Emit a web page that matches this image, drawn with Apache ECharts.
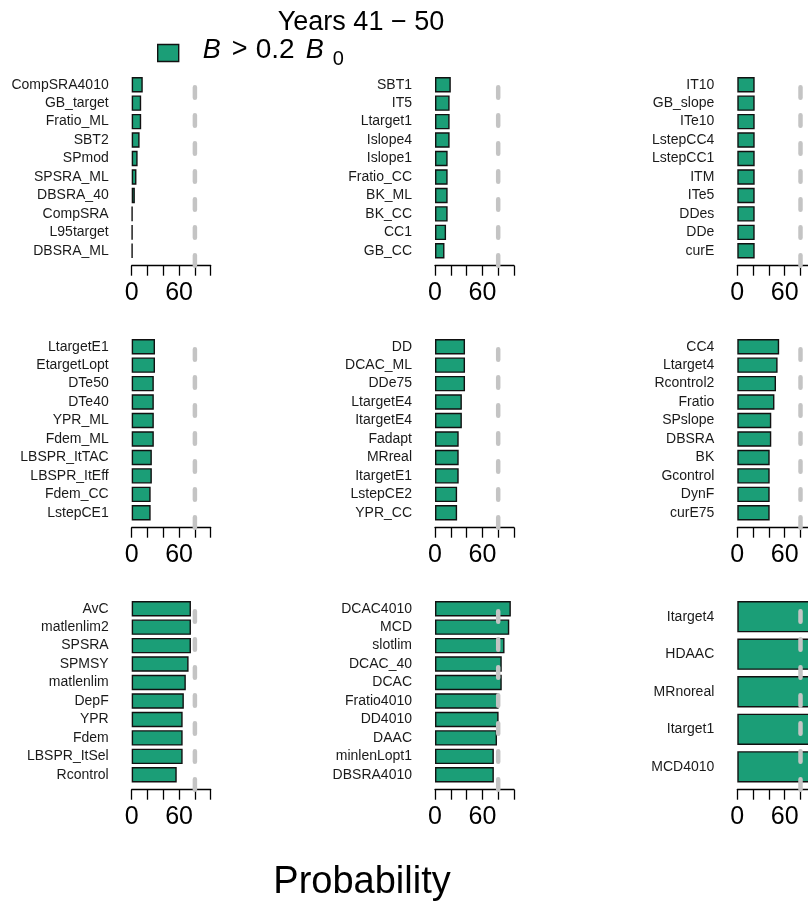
<!DOCTYPE html>
<html lang="en">
<head>
    <meta charset="UTF-8">
    <title>Years 41 - 50</title>
    <style>
        html,body{margin:0;padding:0;background:#fff;}
        #main{width:808px;height:903px;}
    </style>
</head>
<body>
    <div id="main"></div>
    <script src="https://cdn.jsdelivr.net/npm/echarts@6/dist/echarts.min.js"></script>
    <script>
        // categories top -> bottom, one pair of arrays per panel
        var names1 = ['CompSRA4010','GB_target','Fratio_ML','SBT2','SPmod','SPSRA_ML','DBSRA_40','CompSRA','L95target','DBSRA_ML'];
        var vals1  = [14, 12, 12, 10, 7.5, 6, 4, 1, 1, 1];
        var names2 = ['SBT1','IT5','Ltarget1','Islope4','Islope1','Fratio_CC','BK_ML','BK_CC','CC1','GB_CC'];
        var vals2  = [20, 18.5, 18.5, 18.5, 16, 16, 16, 16, 14, 12];
        var names3 = ['IT10','GB_slope','ITe10','LstepCC4','LstepCC1','ITM','ITe5','DDes','DDe','curE'];
        var vals3  = [22, 22, 22, 22, 22, 22, 22, 22, 22, 22];
        var names4 = ['LtargetE1','EtargetLopt','DTe50','DTe40','YPR_ML','Fdem_ML','LBSPR_ItTAC','LBSPR_ItEff','Fdem_CC','LstepCE1'];
        var vals4  = [29.5, 29.5, 28, 28, 28, 28, 25.5, 25.5, 24, 24];
        var names5 = ['DD','DCAC_ML','DDe75','LtargetE4','ItargetE4','Fadapt','MRreal','ItargetE1','LstepCE2','YPR_CC'];
        var vals5  = [38, 38, 38, 34, 34, 30, 30, 30, 28, 28];
        var names6 = ['CC4','Ltarget4','Rcontrol2','Fratio','SPslope','DBSRA','BK','Gcontrol','DynF','curE75'];
        var vals6  = [53, 51, 49, 47, 43, 43, 41, 41, 41, 41];
        var names7 = ['AvC','matlenlim2','SPSRA','SPMSY','matlenlim','DepF','YPR','Fdem','LBSPR_ItSel','Rcontrol'];
        var vals7  = [75, 75, 75, 72, 68.5, 66, 64.5, 64.5, 64.5, 57];
        var names8 = ['DCAC4010','MCD','slotlim','DCAC_40','DCAC','Fratio4010','DD4010','DAAC','minlenLopt1','DBSRA4010'];
        var vals8  = [96, 94, 88, 84.5, 84.5, 80.5, 80.5, 78.5, 74.5, 74.5];
        var names9 = ['Itarget4','HDAAC','MRnoreal','Itarget1','MCD4010'];
        var vals9  = [99, 98, 98, 97, 97];

        var xTickLabels = [0, 60];
        var refLine = 80;
        var seriesName = 'B > 0.2 B0';

        var panels = [
            [names1, vals1], [names2, vals2], [names3, vals3],
            [names4, vals4], [names5, vals5], [names6, vals6],
            [names7, vals7], [names8, vals8], [names9, vals9]
        ];

        // layout (pixels)
        var colX = [131.7, 435, 737.3];
        var rowTop = [77, 339, 601];
        var barSpan = 181.5;
        var plotW = 79;
        var pad = 7.2;
        var font = 'Liberation Sans, Arial, sans-serif';
        var green = '#1b9e77';

        var grid = [], xAxis = [], yAxis = [], series = [];

        panels.forEach(function (p, i) {
            var col = i % 3, row = Math.floor(i / 3);
            var n = p[0].length;
            var b = barSpan / (1.2 * n - 0.2);
            var left = colX[col];
            // bars grid
            grid.push({left: left, width: plotW, top: rowTop[row] - 0.1 * b, height: 1.2 * n * b,
                       outerBoundsMode: 'none', containLabel: false});
            // axis + reference line grid
            grid.push({left: left, width: plotW, top: rowTop[row] - pad, height: barSpan + 2 * pad,
                       outerBoundsMode: 'none', containLabel: false});

            xAxis.push({type: 'value', gridIndex: 2 * i, min: 0, max: 100, show: false});
            xAxis.push({
                type: 'value', gridIndex: 2 * i + 1, min: 0, max: 100, interval: 20,
                axisLine: {show: true, lineStyle: {color: '#000', width: 1.3}},
                axisTick: {show: true, length: 10, lineStyle: {color: '#000', width: 1.3}},
                splitLine: {show: false},
                axisLabel: {
                    margin: 15, fontSize: 25, color: '#000', fontFamily: font,
                    formatter: function (v) { return xTickLabels.indexOf(v) >= 0 ? String(v) : ''; }
                }
            });
            yAxis.push({
                type: 'category', gridIndex: 2 * i, data: p[0], inverse: true,
                axisLine: {show: false}, axisTick: {show: false},
                axisLabel: {margin: 23, fontSize: 14, color: '#1a1a1a', fontFamily: font, interval: 0}
            });
            yAxis.push({type: 'value', gridIndex: 2 * i + 1, min: 0, max: 1, show: false});

            series.push({
                name: seriesName, type: 'bar', xAxisIndex: 2 * i, yAxisIndex: 2 * i,
                data: p[1], barCategoryGap: '16.67%',
                itemStyle: {color: green, borderColor: '#111', borderWidth: 1.4},
                animation: false, z: 2
            });
            series.push({
                type: 'line', xAxisIndex: 2 * i + 1, yAxisIndex: 2 * i + 1,
                data: [[refLine, 0], [refLine, 1]], symbol: 'none', silent: true,
                lineStyle: {color: '#c4c4c4', width: 4.5, type: [10.5, 17.5], cap: 'round'},
                animation: false, z: 5
            });
        });

        var chart = echarts.init(document.getElementById('main'));
        chart.setOption({
            backgroundColor: '#fff',
            animation: false,
            title: [
                {text: 'Years 41 \u2212 50', left: 361, top: 9, textAlign: 'center', padding: 0,
                 textStyle: {fontSize: 27, fontWeight: 'normal', color: '#000', fontFamily: font}},
                {text: 'Probability', left: 362, top: 864, textAlign: 'center', padding: 0,
                 textStyle: {fontSize: 38, fontWeight: 'normal', color: '#000', fontFamily: font}}
            ],
            legend: {
                data: [seriesName], left: 157, top: 36, padding: 0,
                icon: 'rect', itemWidth: 21, itemHeight: 17,
                itemStyle: {color: green, borderColor: '#111', borderWidth: 1.4},
                formatter: function () { return '{g|}{b1|B}{gt|>}{num|0.2}{b2|B}{s|0}'; },
                textStyle: {
                    color: '#000', fontFamily: font, fontSize: 27,
                    rich: {
                        g: {width: 19},
                        b1: {fontSize: 27, fontStyle: 'italic', fontFamily: font, width: 29, padding: [0, 0, 6, 0]},
                        gt: {fontSize: 27, fontFamily: font, width: 24, padding: [0, 0, 6, 0]},
                        num: {fontSize: 28, fontFamily: font, width: 50, padding: [0, 0, 6, 0]},
                        b2: {fontSize: 27, fontStyle: 'italic', fontFamily: font, width: 27, padding: [0, 0, 6, 0]},
                        s: {fontSize: 20, fontFamily: font, padding: [12, 0, 0, 0]}
                    }
                }
            },
            grid: grid,
            xAxis: xAxis,
            yAxis: yAxis,
            series: series
        });
    </script>
</body>
</html>
